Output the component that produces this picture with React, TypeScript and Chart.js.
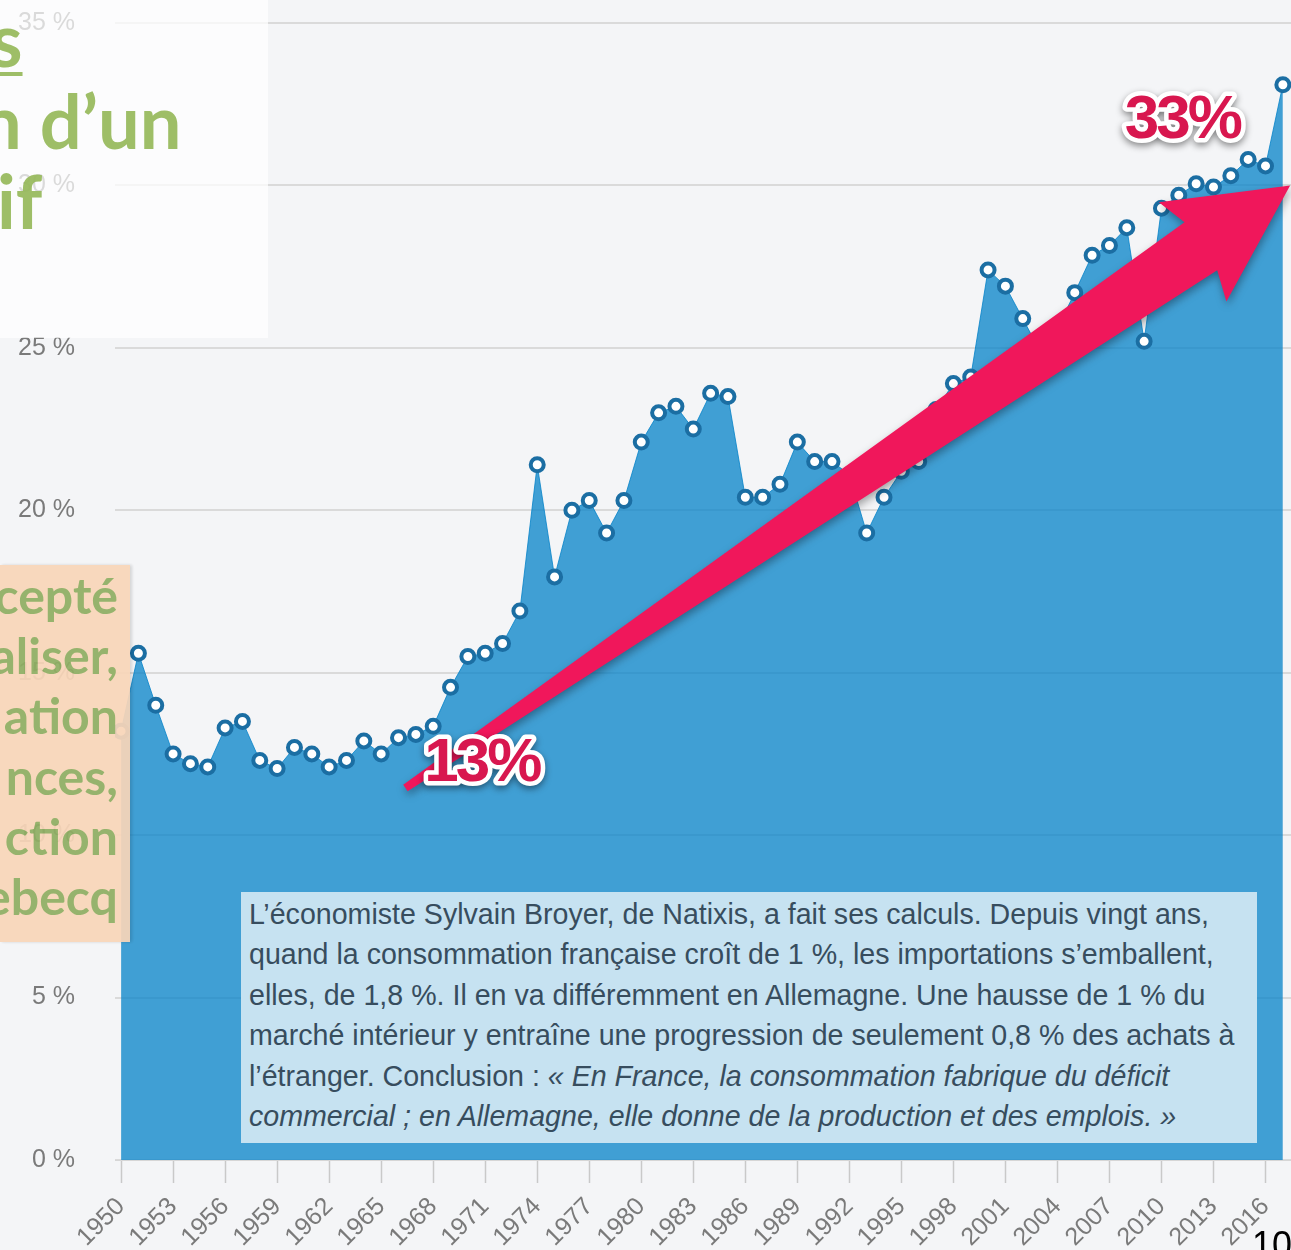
import React, { useEffect, useRef } from "react";
import { Chart, registerables } from "chart.js";

Chart.register(...registerables);

// ---- data ----
const years = [
  1950, 1951, 1952, 1953, 1954, 1955, 1956, 1957, 1958, 1959,
  1960, 1961, 1962, 1963, 1964, 1965, 1966, 1967, 1968, 1969,
  1970, 1971, 1972, 1973, 1974, 1975, 1976, 1977, 1978, 1979,
  1980, 1981, 1982, 1983, 1984, 1985, 1986, 1987, 1988, 1989,
  1990, 1991, 1992, 1993, 1994, 1995, 1996, 1997, 1998, 1999,
  2000, 2001, 2002, 2003, 2004, 2005, 2006, 2007, 2008, 2009,
  2010, 2011, 2012, 2013, 2014, 2015, 2016, 2017,
];

const importShare = [
  13.2, 15.6, 14.0, 12.5, 12.2, 12.1, 13.3, 13.5, 12.3, 12.05,
  12.7, 12.5, 12.1, 12.3, 12.9, 12.5, 13.0, 13.1, 13.35, 14.55,
  15.5, 15.6, 15.9, 16.9, 21.4, 17.95, 20.0, 20.3, 19.3, 20.3,
  22.1, 23.0, 23.2, 22.5, 23.6, 23.5, 20.4, 20.4, 20.8, 22.1,
  21.5, 21.5, 21.1, 19.3, 20.4, 21.2, 21.5, 23.1, 23.9, 24.1,
  27.4, 26.9, 25.9, 24.9, 25.6, 26.7, 27.85, 28.15, 28.7, 25.2,
  29.3, 29.7, 30.05, 29.95, 30.3, 30.8, 30.6, 33.1,
];

const xTickYears = [
  1950, 1953, 1956, 1959, 1962, 1965, 1968, 1971, 1974, 1977, 1980, 1983,
  1986, 1989, 1992, 1995, 1998, 2001, 2004, 2007, 2010, 2013, 2016,
];

const yTickValues = [0, 5, 10, 15, 20, 25, 30, 35];

// annotation anchors, in data units
const arrowFrom = { year: 1966.4, value: 11.45 };
const arrowTo = { year: 2017.42, value: 30.0 };
const callouts = [
  { text: "13%", year: 1970.8, value: 12.2 },
  { text: "33%", year: 2011.2, value: 32.0 },
];

const boxLines = [
  { text: "L’économiste Sylvain Broyer, de Natixis, a fait ses calculs. Depuis vingt ans,", italic: "" },
  { text: "quand la consommation française croît de 1 %, les importations s’emballent,", italic: "" },
  { text: "elles, de 1,8 %. Il en va différemment en Allemagne. Une hausse de 1 % du", italic: "" },
  { text: "marché intérieur y entraîne une progression de seulement 0,8 % des achats à", italic: "" },
  { text: "l’étranger. Conclusion : ", italic: "« En France, la consommation fabrique du déficit" },
  { text: "", italic: "commercial ; en Allemagne, elle donne de la production et des emplois. »" },
];

const sideLines = ["cepté", "aliser,", "ation", "nces,", "ction", "ebecq"];

const annotationPlugin = {
  id: "arrowNotes",
  afterDatasetsDraw(chart: any) {
    const { ctx } = chart;
    const xs = chart.scales.x;
    const ys = chart.scales.y;
    const x0 = xs.getPixelForValue(arrowFrom.year);
    const y0 = ys.getPixelForValue(arrowFrom.value);
    const x1 = xs.getPixelForValue(arrowTo.year);
    const y1 = ys.getPixelForValue(arrowTo.value);
    const dx = x1 - x0;
    const dy = y1 - y0;
    const L = Math.hypot(dx, dy);
    const ux = dx / L;
    const uy = dy / L;
    const nx = -uy;
    const ny = ux;
    const P = (a: number, w: number) => [x0 + ux * a + nx * w, y0 + uy * a + ny * w];
    const pts = [
      P(0, -4),
      P(L - 108, -29),
      P(L - 118, -60),
      P(L, 0),
      P(L - 118, 60),
      P(L - 108, 29),
      P(0, 4),
    ];
    ctx.save();
    ctx.shadowColor = "rgba(0,0,0,0.35)";
    ctx.shadowBlur = 8;
    ctx.shadowOffsetX = 1;
    ctx.shadowOffsetY = 4;
    ctx.fillStyle = "#f0175b";
    ctx.beginPath();
    pts.forEach((p, i) => (i === 0 ? ctx.moveTo(p[0], p[1]) : ctx.lineTo(p[0], p[1])));
    ctx.closePath();
    ctx.fill();
    ctx.restore();

    callouts.forEach((c) => {
      const cx = xs.getPixelForValue(c.year);
      const cy = ys.getPixelForValue(c.value);
      ctx.save();
      ctx.font = 'bold 62px "Liberation Sans", Arial, sans-serif';
      (ctx as any).letterSpacing = "-3px";
      ctx.textAlign = "center";
      ctx.textBaseline = "middle";
      ctx.lineJoin = "round";
      ctx.shadowColor = "rgba(0,0,0,0.45)";
      ctx.shadowBlur = 7;
      ctx.shadowOffsetY = 3;
      ctx.strokeStyle = "#ffffff";
      ctx.lineWidth = 9;
      ctx.strokeText(c.text, cx, cy);
      ctx.shadowColor = "transparent";
      ctx.fillStyle = "#d8174f";
      ctx.fillText(c.text, cx, cy);
      ctx.restore();
    });
  },
};

export default function App() {
  const ref = useRef<HTMLCanvasElement>(null);

  useEffect(() => {
    if (!ref.current) return;
    const chart = new Chart(ref.current, {
      type: "line",
      data: {
        datasets: [
          {
            data: years.map((yr, i) => ({ x: yr, y: importShare[i] })),
            fill: "origin",
            backgroundColor: "rgba(4,130,200,0.75)",
            borderColor: "rgba(4,130,200,0.8)",
            borderWidth: 1,
            tension: 0,
            pointRadius: 6.5,
            pointBorderWidth: 4,
            pointBackgroundColor: "#ffffff",
            pointBorderColor: "#1b6ea3",
          },
        ],
      },
      options: {
        animation: false,
        responsive: false,
        maintainAspectRatio: false,
        layout: { autoPadding: false, padding: { top: 23, right: 0, bottom: 0, left: 0 } },
        plugins: { legend: { display: false }, tooltip: { enabled: false } },
        scales: {
          x: {
            type: "linear",
            min: 1949.65,
            max: 2017.47,
            afterBuildTicks: (s: any) => {
              s.ticks = xTickYears.map((v) => ({ value: v }));
            },
            afterFit: (s: any) => {
              s.height = 90;
              s.paddingLeft = 0;
              s.paddingRight = 0;
            },
            grid: {
              drawOnChartArea: false,
              drawTicks: true,
              tickLength: 23,
              tickColor: "#c9c9c9",
              tickWidth: 1.5,
            },
            border: { display: true, color: "#d6d6d6", width: 1 },
            ticks: {
              autoSkip: false,
              maxRotation: 45,
              minRotation: 45,
              padding: 9,
              color: "#7a7a7a",
              font: { family: "Liberation Sans", size: 25 },
              callback: (v: any) => String(v),
            },
          },
          y: {
            min: 0,
            max: 35,
            afterBuildTicks: (s: any) => {
              s.ticks = yTickValues.map((v) => ({ value: v }));
            },
            afterFit: (s: any) => {
              s.width = 115;
              s.paddingTop = 0;
              s.paddingBottom = 0;
            },
            grid: { color: "#dadada", lineWidth: 2, drawTicks: false },
            border: { display: false },
            ticks: {
              padding: 40,
              color: "#7a7a7a",
              font: { family: "Liberation Sans", size: 25 },
              callback: (v: any) => v + " %",
            },
          },
        },
      },
      plugins: [annotationPlugin],
    });
    return () => chart.destroy();
  }, []);

  return (
    <div
      style={{
        position: "absolute",
        left: 0,
        top: 0,
        width: 1291,
        height: 1250,
        overflow: "hidden",
        background: "#f4f5f7",
      }}
    >
      <canvas ref={ref} width={1291} height={1250} style={{ position: "absolute", left: 0, top: 0 }} />

      {/* top-left slide title fragment */}
      <div
        style={{
          position: "absolute",
          left: 0,
          top: 0,
          width: 268,
          height: 338,
          background: "rgba(255,255,255,0.72)",
          fontFamily: "Lato, sans-serif",
          fontWeight: 700,
          fontSize: 74,
          lineHeight: "74px",
          color: "rgba(150,185,90,0.92)",
        }}
      >
        <span
          style={{
            position: "absolute",
            left: -10,
            top: 2,
            whiteSpace: "pre",
            textDecoration: "underline",
            textDecorationThickness: "4px",
            textUnderlineOffset: "5px",
          }}
        >
          s
        </span>
        <span style={{ position: "absolute", left: -20, top: 84, whiteSpace: "pre" }}>n d’un</span>
        <span style={{ position: "absolute", left: -3, top: 164, whiteSpace: "pre" }}>if</span>
      </div>

      {/* left orange text fragment */}
      <div
        style={{
          position: "absolute",
          left: 0,
          top: 565,
          width: 130,
          height: 377,
          background: "#f8d5b8",
          opacity: 0.93,
          boxShadow: "2px 0 3px rgba(0,0,0,0.15)",
          fontFamily: "Lato, sans-serif",
          fontWeight: 700,
          fontSize: 50,
          lineHeight: "60.2px",
          color: "#8fae62",
          overflow: "hidden",
        }}
      >
        {sideLines.map((l, i) => (
          <div
            key={i}
            style={{
              display: "flex",
              justifyContent: "flex-end",
              width: 118,
              whiteSpace: "pre",
            }}
          >
            <span>{l}</span>
          </div>
        ))}
      </div>

      {/* quote box */}
      <div
        style={{
          position: "absolute",
          left: 241,
          top: 892,
          width: 1016,
          height: 251,
          boxSizing: "border-box",
          background: "#c6e2f1",
          padding: "2px 0 0 8px",
          fontFamily: '"Liberation Sans", Arial, sans-serif',
          fontSize: 28.6,
          lineHeight: "40.4px",
          color: "#374d5e",
          whiteSpace: "pre",
        }}
      >
        {boxLines.map((l, i) => (
          <div key={i}>
            {l.text}
            {l.italic ? <i>{l.italic}</i> : null}
          </div>
        ))}
      </div>

      {/* page number fragment */}
      <div
        style={{
          position: "absolute",
          left: 1252,
          top: 1227,
          fontFamily: '"Liberation Sans", Arial, sans-serif',
          fontSize: 36,
          lineHeight: "36px",
          color: "#000",
        }}
      >
        10
      </div>
    </div>
  );
}
